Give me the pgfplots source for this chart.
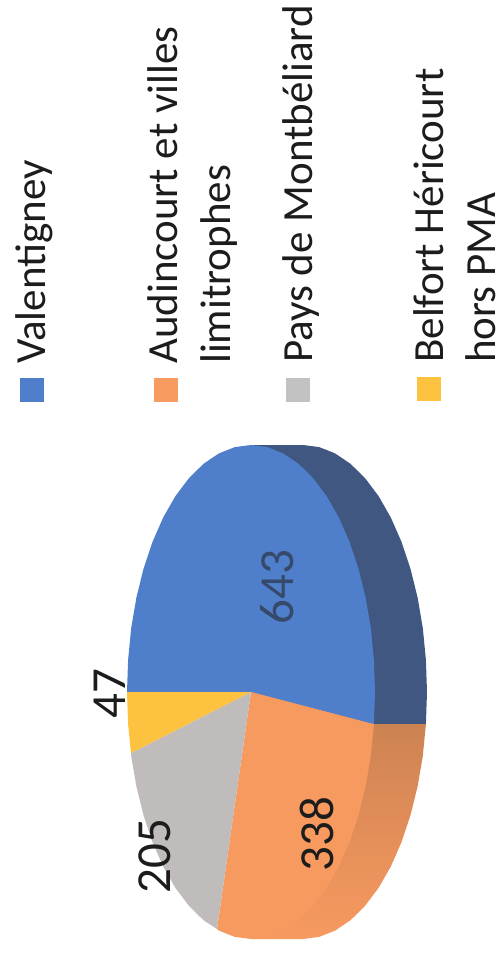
\documentclass[border=0pt]{standalone}
\usepackage{fontspec}
\setmainfont{Carlito}
\usepackage{pgfplots}
\pgfplotsset{compat=1.18}
\definecolor{cblue}{HTML}{4F7FCB}
\definecolor{cblued}{HTML}{3F5781}
\definecolor{corange}{HTML}{F79A60}
\definecolor{cgray}{HTML}{BFBCBB}
\definecolor{cyellow}{HTML}{FDC23F}
\definecolor{cgrayl}{HTML}{C2C2C2}
\definecolor{ctext}{HTML}{1C1C1C}
\definecolor{cval}{HTML}{36496B}
\definecolor{sidetop}{HTML}{C4804F}
\definecolor{sidemid}{HTML}{E08C58}
\definecolor{sidebot}{HTML}{F69A60}
\newcommand{\legfont}{\fontsize{43}{52}\selectfont}
\newcommand{\valfont}{\fontsize{49}{58}\selectfont}
\begin{document}
\begin{tikzpicture}
\begin{axis}[
    scale only axis,
    width=499pt,
    height=957pt,
    xmin=0, xmax=499,
    ymin=0, ymax=957,
    y dir=reverse,
    hide axis,
    clip=false,
]
% keep the page as large as the axis
\path[use as bounding box] (axis cs:0,0) rectangle (axis cs:499,957);
% side of the pie
\addplot[fill=cblued, draw=none, mark=none] coordinates {
    (251,445) (303,445) (319.2,447.1) (335.1,453.4) (350.5,463.8) (365,478.1)
    (378.5,496) (390.7,517.3) (401.4,541.6) (410.4,568.5) (417.6,597.5)
    (422.8,628) (425.9,659.8) (427,692) (425.9,724.2) (373.9,724.2) (251,692)
} -- cycle;
\addplot[top color=sidetop, bottom color=sidebot, middle color=sidemid, draw=none, mark=none] coordinates {
    (373.9,724.2) (425.9,724.2) (422.8,756) (417.6,786.5) (410.4,815.5)
    (401.4,842.4) (390.7,866.7) (378.5,888) (365,905.9) (350.5,920.2)
    (335.1,930.6) (319.2,936.9) (303,939) (251,939) (251,692)
} -- cycle;
% top face: 643
\addplot[fill=cblue, draw=none, mark=none] coordinates {
    (251,692) (127,692) (128.1,659.8) (131.2,628) (136.4,597.5) (143.6,568.5)
    (152.6,541.6) (163.3,517.3) (175.5,496) (189,478.1) (203.5,463.8)
    (218.9,453.4) (234.8,447.1) (251,445) (267.2,447.1) (283.1,453.4)
    (298.5,463.8) (313,478.1) (326.5,496) (338.7,517.3) (349.4,541.6)
    (358.4,568.5) (365.6,597.5) (370.8,628) (373.9,659.8) (375,692) (373.9,724.2)
} -- cycle;
% 338
\addplot[fill=corange, draw=none, mark=none] coordinates {
    (251,692) (373.9,724.2) (370.8,756) (365.6,786.5) (358.4,815.5) (349.4,842.4)
    (338.7,866.7) (326.5,888) (313,905.9) (298.5,920.2) (283.1,930.6)
    (267.2,936.9) (251,939) (234.8,936.9) (218.9,930.6) (217,929)
} -- cycle;
% 205
\addplot[fill=cgray, draw=none, mark=none] coordinates {
    (251,692) (217,929) (203.5,920.2) (189,905.9) (175.5,888) (163.3,866.7)
    (152.6,842.4) (143.6,815.5) (136.4,786.5) (131.2,756) (131,753)
} -- cycle;
% 47
\addplot[fill=cyellow, draw=none, mark=none] coordinates {
    (251,692) (131,753) (128.1,724.2) (127,692)
} -- cycle;
% legend swatches
\addplot[only marks, mark=square*, mark size=11.5pt, color=cblue] coordinates {(31.5,389.5)};
\addplot[only marks, mark=square*, mark size=11.5pt, color=corange] coordinates {(165.5,389.5)};
\addplot[only marks, mark=square*, mark size=11.5pt, color=cgrayl] coordinates {(298,389.5)};
\addplot[only marks, mark=square*, mark size=11.5pt, color=cyellow] coordinates {(428.5,389)};
% legend text
\begin{scope}[every node/.style={rotate=90, anchor=base west, inner sep=0pt, text=ctext, font=\legfont}]
\node at (axis cs:45,364) {Valentigney};
\node at (axis cs:177,364) {Audincourt et villes};
\node at (axis cs:230,364) {limitrophes};
\node at (axis cs:312,363) {Pays de Montbéliard};
\node at (axis cs:443,363) {Belfort Héricourt};
\node at (axis cs:495,363) {hors PMA};
\end{scope}
% values
\begin{scope}[every node/.style={rotate=90, anchor=base, inner sep=0pt, font=\valfont}]
\node[text=cval] at (axis cs:293,587) {643};
\node[text=ctext] at (axis cs:333,834) {338};
\node[text=ctext] at (axis cs:170,856) {205};
\node[text=ctext] at (axis cs:125,694) {47};
\end{scope}
\end{axis}
\end{tikzpicture}
\end{document}
